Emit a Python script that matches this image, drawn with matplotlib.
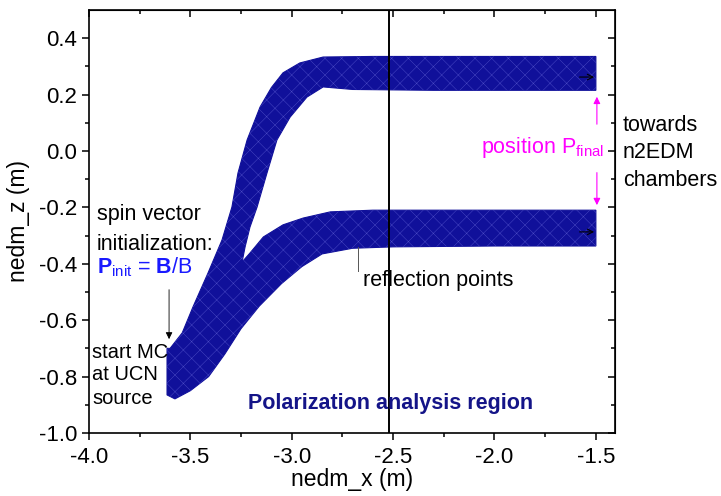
import matplotlib
matplotlib.use("Agg")
import matplotlib.pyplot as plt

plt.rcParams["font.family"] = ["Liberation Sans", "DejaVu Sans"]
plt.rcParams["mathtext.fontset"] = "custom"
plt.rcParams["mathtext.rm"] = "Liberation Sans"
plt.rcParams["mathtext.bf"] = "Liberation Sans:bold"
plt.rcParams["mathtext.it"] = "Liberation Sans:italic"
plt.rcParams["hatch.linewidth"] = 0.3

# envelope of the simulated UCN trajectories
upper_outer_x = [-3.615, -3.60, -3.54, -3.487, -3.413, -3.344, -3.295, -3.265,
                 -3.22, -3.156, -3.10, -3.043, -2.96, -2.845, -2.6, -2.2, -1.8, -1.5]
upper_outer_z = [-0.700, -0.700, -0.645, -0.553, -0.433, -0.316, -0.199, -0.078,
                 0.039, 0.156, 0.225, 0.277, 0.312, 0.333, 0.335, 0.335, 0.335, 0.335]
upper_inner_x = [-1.5, -1.9, -2.3, -2.7, -2.845, -2.925, -3.008, -3.073, -3.122,
                 -3.171, -3.206, -3.23, -3.245]
upper_inner_z = [0.215, 0.215, 0.215, 0.218, 0.227, 0.191, 0.12, 0.039, -0.078,
                 -0.199, -0.27, -0.34, -0.394]
lower_top_x = [-3.206, -3.14, -3.043, -2.944, -2.81, -2.6, -2.2, -1.8, -1.5]
lower_top_z = [-0.362, -0.305, -0.262, -0.238, -0.216, -0.21, -0.21, -0.21, -0.21]
lower_bottom_x = [-1.5, -2.0, -2.5, -2.70, -2.85, -2.95, -3.05, -3.16, -3.25,
                  -3.33, -3.41, -3.50, -3.576, -3.615]
lower_bottom_z = [-0.337, -0.337, -0.34, -0.345, -0.365, -0.41, -0.47, -0.55, -0.63,
                  -0.72, -0.80, -0.85, -0.879, -0.865]

x_major = [-4.0, -3.5, -3.0, -2.5, -2.0, -1.5]
x_minor = [-3.75, -3.25, -2.75, -2.25, -1.75]
z_major = [-1.0, -0.8, -0.6, -0.4, -0.2, 0.0, 0.2, 0.4]
z_minor = [-0.9, -0.7, -0.5, -0.3, -0.1, 0.1, 0.3]

analysis_x = -2.52
track_color = "#10109a"

fig = plt.figure(figsize=(7.21, 4.96), dpi=100)
ax = fig.add_axes([0.1234, 0.127, 0.7295, 0.853])

band_x = upper_outer_x + upper_inner_x + lower_top_x + lower_bottom_x
band_z = upper_outer_z + upper_inner_z + lower_top_z + lower_bottom_z
ax.fill(band_x, band_z, color=track_color, lw=0.8)
# faint mesh to mimic the overlapping trajectory lines
ax.fill(band_x, band_z, facecolor="none", edgecolor="#5050c8", lw=0, hatch="xx")

ax.axvline(analysis_x, color="black", lw=1.4)

ax.set_xlim(-4.0, -1.406)
ax.set_ylim(-1.0, 0.5)
ax.set_xticks(x_major)
ax.set_xticks(x_minor, minor=True)
ax.set_yticks(z_major)
ax.set_yticks(z_minor, minor=True)
ax.set_xticklabels([f"{v:.1f}" for v in x_major])
ax.set_yticklabels([f"{v:.1f}" for v in z_major])
ax.tick_params(which="major", direction="out", length=5, width=1.1, labelsize=16)
ax.tick_params(which="minor", direction="out", length=3, width=1.1)
ax.tick_params(axis="x", which="major", pad=5)
for sp in ax.spines.values():
    sp.set_linewidth(1.2)

top = ax.secondary_xaxis("top")
top.set_xticks(x_major)
top.set_xticks(x_minor, minor=True)
top.tick_params(which="both", direction="in", labeltop=False, width=1.1)
top.tick_params(which="major", length=5)
top.tick_params(which="minor", length=3)
right = ax.secondary_yaxis("right")
right.set_yticks(z_major)
right.set_yticks(z_minor, minor=True)
right.tick_params(which="both", direction="in", labelright=False, width=1.1)
right.tick_params(which="major", length=5)
right.tick_params(which="minor", length=3)

ax.set_xlabel("nedm_x (m)", fontsize=16.5, labelpad=0)
ax.set_ylabel("nedm_z (m)", fontsize=16.5, labelpad=6)

# annotations
ax.text(-3.96, -0.227, "spin vector", fontsize=15.5, va="center")
ax.text(-3.96, -0.333, "initialization:", fontsize=15.5, va="center")
ax.text(-3.96, -0.411, r"$\mathbf{P}_{\rm init}$ = $\mathbf{B}$/B", fontsize=15.5,
        va="center", color="#1a1aff")
ax.annotate("", xy=(-3.605, -0.677), xytext=(-3.605, -0.482),
            arrowprops=dict(arrowstyle="-|>", color="black", lw=0.6,
                            mutation_scale=10))
ax.text(-3.985, -0.713, "start MC", fontsize=14.5, va="center")
ax.text(-3.985, -0.794, "at UCN", fontsize=14.5, va="center")
ax.text(-3.985, -0.879, "source", fontsize=14.5, va="center")

ax.text(-2.515, -0.897, "Polarization analysis region", fontsize=15.5,
        fontweight="bold", color="#141488", ha="center", va="center")
ax.text(-2.648, -0.461, "reflection points", fontsize=15.5, va="center")
ax.plot([-2.673, -2.673], [-0.34, -0.426], color="#555555", lw=0.7)

ax.text(-1.367, 0.089, "towards", fontsize=15.5, va="center", clip_on=False)
ax.text(-1.367, -0.004, "n2EDM", fontsize=15.5, va="center", clip_on=False)
ax.text(-1.367, -0.103, "chambers", fontsize=15.5, va="center", clip_on=False)

ax.text(-1.46, 0.011, r"position P$_{\rm final}$", fontsize=15.5, color="#ff00ff",
        ha="right", va="center")
magenta_arrow = dict(arrowstyle="-|>", color="#ff00ff", lw=0.8, mutation_scale=10)
ax.annotate("", xy=(-1.495, 0.202), xytext=(-1.495, 0.085), arrowprops=magenta_arrow)
ax.annotate("", xy=(-1.495, -0.202), xytext=(-1.495, -0.067), arrowprops=magenta_arrow)

black_arrow = dict(arrowstyle="->", color="black", lw=0.8, mutation_scale=10)
ax.annotate("", xy=(-1.495, 0.262), xytext=(-1.594, 0.262), arrowprops=black_arrow)
ax.annotate("", xy=(-1.495, -0.287), xytext=(-1.594, -0.287), arrowprops=black_arrow)

fig.savefig("out.png", dpi=100)
